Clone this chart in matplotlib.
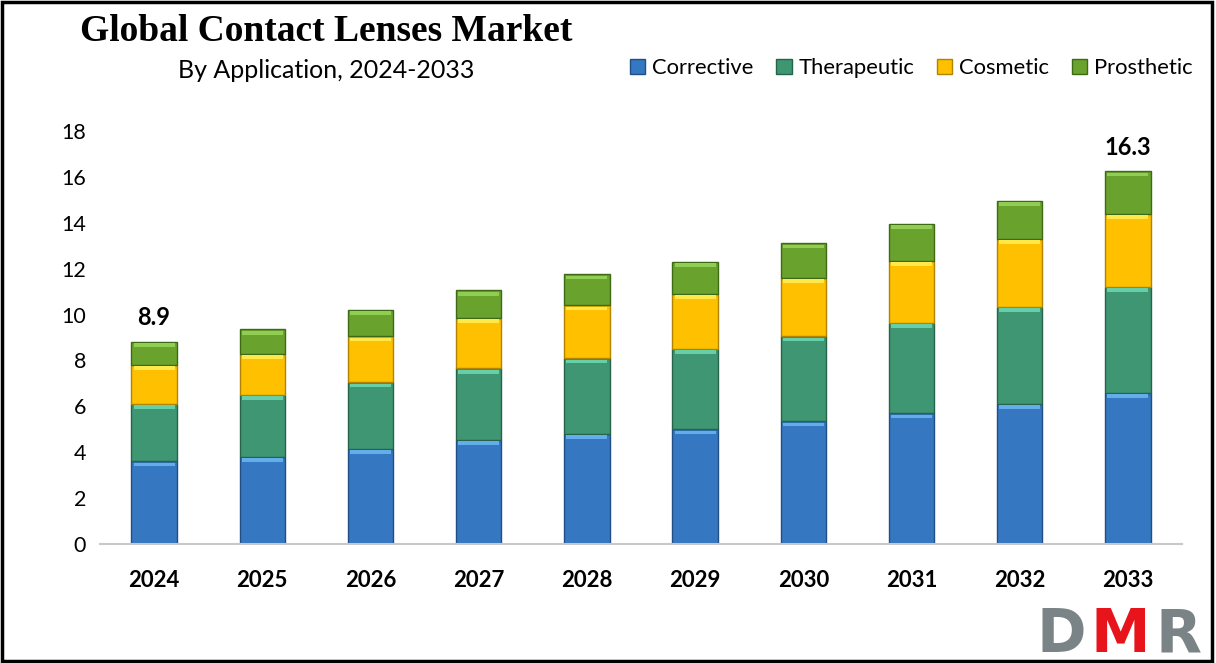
import numpy as np
import matplotlib
matplotlib.use("Agg")
from matplotlib import pyplot as plt
from matplotlib.patches import Rectangle

years = ["2024", "2025", "2026", "2027", "2028", "2029", "2030", "2031", "2032", "2033"]
corrective = [3.6, 3.8, 4.15, 4.55, 4.8, 5.0, 5.35, 5.7, 6.1, 6.6]
therapeutic = [2.5, 2.7, 2.9, 3.1, 3.3, 3.5, 3.7, 3.95, 4.25, 4.6]
cosmetic = [1.7, 1.8, 2.0, 2.2, 2.3, 2.4, 2.55, 2.7, 2.95, 3.2]
prosthetic = [1.0, 1.05, 1.15, 1.2, 1.35, 1.4, 1.5, 1.6, 1.65, 1.85]
labels = {0: "8.9", 9: "16.3"}

series = [
    ("Corrective", corrective, "#3577c0", "#63aeea", "#1f4f86"),
    ("Therapeutic", therapeutic, "#3e9672", "#66cfa8", "#25644a"),
    ("Cosmetic", cosmetic, "#ffc000", "#ffe94a", "#b08400"),
    ("Prosthetic", prosthetic, "#6aa22e", "#90cd52", "#3f6a15"),
]

plt.rcParams["font.family"] = ["Lato", "DejaVu Sans"]

fig = plt.figure(figsize=(12.16, 6.63), dpi=100)
ax = fig.add_axes([0.0822, 0.1795, 0.8898, 0.6229])

x = np.arange(len(years))
width = 0.42
bottom = np.zeros(len(years))
for name, vals, col, light, dark in series:
    vals = np.array(vals)
    ax.bar(x, vals, width, bottom=bottom, color=col, edgecolor=dark,
           linewidth=1.0, label=name, zorder=2)
    # bevel highlight at the top of each segment
    ax.bar(x, np.full(len(x), 0.16), width * 0.9, bottom=bottom + vals - 0.22,
           color=light, linewidth=0, zorder=3)
    bottom = bottom + vals

totals = bottom
for i, txt in labels.items():
    ax.text(x[i], totals[i] + 0.55, txt, ha="center", va="bottom",
            fontsize=17, fontweight="bold", color="black")

ax.set_xlim(-0.5, len(years) - 0.5)
ax.set_ylim(0, 18)
ax.set_yticks(range(0, 19, 2))
ax.set_xticks(x)
ax.set_xticklabels(years, fontsize=16, fontweight="bold")
ax.tick_params(axis="y", labelsize=15.5, length=0, pad=10)
ax.tick_params(axis="x", length=0, pad=19)
for s in ["top", "right", "left"]:
    ax.spines[s].set_visible(False)
ax.spines["bottom"].set_color("#c8c8c8")
ax.spines["bottom"].set_linewidth(1.5)

fig.text(0.268, 0.953, "Global Contact Lenses Market", ha="center", va="center",
         family="Liberation Serif", fontweight="bold", fontsize=27)
fig.text(0.268, 0.893, "By Application, 2024-2033", ha="center", va="center",
         fontsize=18)

handles, names = ax.get_legend_handles_labels()
fig.legend(handles, names, loc="center right", bbox_to_anchor=(0.997, 0.897),
           ncol=4, frameon=False, fontsize=15.8, handlelength=0.7, handleheight=0.7,
           handletextpad=0.3, columnspacing=1.05)

# DMR logo
logo = [("D", 0.852, "#7a8486"), ("M", 0.897, "#e8141b"), ("R", 0.950, "#7a8486")]
for letter, lx, lc in logo:
    fig.text(lx, 0.016, letter, color=lc, fontsize=43, fontweight="bold",
             family="DejaVu Sans", ha="left", va="baseline")

fig.patches.append(Rectangle((0.002, 0.003), 0.995, 0.994, transform=fig.transFigure,
                             fill=False, edgecolor="black", linewidth=2.5, zorder=10))

fig.savefig("out.png", dpi=100)
